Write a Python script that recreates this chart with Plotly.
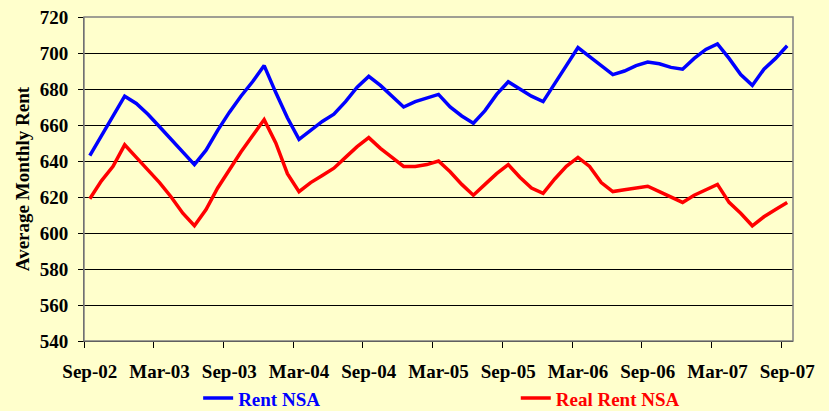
import pandas as pd
import plotly.graph_objects as go

# Monthly categories Sep-02 .. Sep-07
months = [d.strftime("%b-%y") for d in pd.date_range("2002-09-01", "2007-09-01", freq="MS")]

rent_nsa = [643, 654, 665, 676, 672, 666, 659, 652, 645, 638,
            646, 657, 667, 676, 684, 693, 678, 664, 652, 657,
            662, 666, 673, 681, 687, 682, 676, 670, 673, 675,
            677, 670, 665, 661, 668, 677, 684, 680, 676, 673,
            683, 693, 703, 698, 693, 688, 690, 693, 695, 694,
            692, 691, 697, 702, 705, 697, 688, 682, 691, 697,
            704]

real_rent_nsa = [619, 629, 637, 649, 642, 635, 628, 620, 611, 604,
                 613, 625, 635, 645, 654, 663, 650, 633, 623, 628,
                 632, 636, 642, 648, 653, 647, 642, 637, 637, 638,
                 640, 634, 627, 621, 627, 633, 638, 631, 625, 622,
                 630, 637, 642, 637, 628, 623, 624, 625, 626, 623,
                 620, 617, 621, 624, 627, 617, 611, 604, 609, 613,
                 617]

BG = "#FFFFCC"
FONT = "Liberation Serif"

fig = go.Figure()
fig.add_trace(go.Scatter(
    x=months, y=rent_nsa, mode="lines",
    name="<span style='color:#0000FF'>Rent NSA</span>",
    line=dict(color="#0000FF", width=3.5), legend="legend",
))
fig.add_trace(go.Scatter(
    x=months, y=real_rent_nsa, mode="lines",
    name="<span style='color:#FF0000'>Real Rent NSA</span>",
    line=dict(color="#FF0000", width=3.5), legend="legend2",
))

leg_common = dict(orientation="h", xanchor="left", y=-0.118, yanchor="top",
                  bgcolor="rgba(0,0,0,0)", itemwidth=30,
                  font=dict(family=FONT, size=19, weight="bold"))

fig.update_layout(
    width=829, height=411,
    paper_bgcolor=BG, plot_bgcolor=BG,
    margin=dict(l=84, r=36, t=17, b=70, autoexpand=False),
    font=dict(family=FONT, size=19, color="black", weight="bold"),
    showlegend=True,
    legend=dict(x=0.161, **leg_common),
    legend2=dict(x=0.609, **leg_common),
    xaxis=dict(
        type="category", dtick=6, tick0=0, tickson="boundaries",
        ticks="outside", ticklen=6, tickcolor="black", tickwidth=1,
        showline=True, linecolor="black", linewidth=1,
        showgrid=False, ticklabelstandoff=13, tickangle=0, automargin=False,
        tickfont=dict(family=FONT, size=19, weight="bold"),
        range=[-0.5, 60.5], mirror=False,
    ),
    yaxis=dict(
        range=[540, 720], dtick=20, tick0=540, automargin=False,
        ticks="outside", ticklen=5, tickcolor="black",
        showline=True, linecolor="#404040", linewidth=1,
        showgrid=True, gridcolor="black", gridwidth=1,
        tickfont=dict(family=FONT, size=19, weight="bold"),
        ticklabelstandoff=6,
        title=dict(text="Average Monthly Rent", standoff=5,
                   font=dict(family=FONT, size=19, weight="bold")),
        zeroline=False,
    ),
    shapes=[dict(type="rect", xref="paper", yref="paper", x0=0, x1=1, y0=0, y1=1,
                 line=dict(color="#808080", width=1.5), layer="above")],
)

fig.write_html(
    "out.html",
    config={"displayModeBar": False},
    post_script="document.body.style.margin='0';document.body.style.background='#FFFFCC';"
                "document.body.style.overflow='hidden';",
)
